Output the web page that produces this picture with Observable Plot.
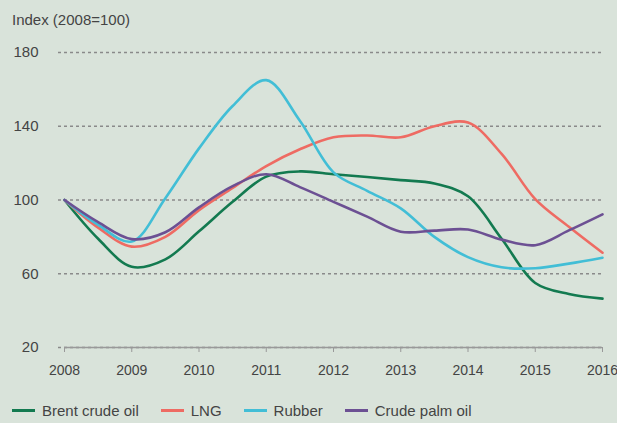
<!DOCTYPE html>
<html><head><meta charset="utf-8">
<script src="https://cdn.jsdelivr.net/npm/d3@7"></script>
<script src="https://cdn.jsdelivr.net/npm/@observablehq/plot@0.6"></script>
<style>
html,body{margin:0;padding:0;background:#d9e3da;}
body{width:617px;height:423px;overflow:hidden;font-family:"Liberation Sans",Arial,sans-serif;color:#444;}
#title{height:36px;box-sizing:border-box;padding:12px 0 0 12px;font-size:15px;line-height:16px;}
#legend{display:flex;align-items:center;padding-left:12px;height:24px;margin-top:13px;font-size:15px;}
.item{display:flex;align-items:center;margin-right:22px;}
.sw{width:23px;height:3px;margin-right:7px;}
</style></head>
<body>
<div id="title">Index (2008=100)</div>
<div id="chart"></div>
<div id="legend"></div>
<script>
const years = [2008,2008.5,2009,2009.5,2010,2010.5,2011,2011.5,2012,2012.5,2013,2013.5,2014,2014.5,2015,2015.5,2016];
const brent = [100,79,63.8,67.8,83,99,112.7,115.5,114,112.5,110.8,109,102,79,55,49,46.5];
const lng   = [100,85,74.7,80,94.5,106.5,118.4,127.5,134,135,134,140,142,125,100.5,85.5,71.4];
const rubber= [100,86.5,77.5,101,128,151,165,143,115,105,95.5,80,69,63.5,63,65.5,68.7];
const cpo   = [100,88,78.8,82.5,96,107.5,114,107,99,91,82.8,83.4,84,78.5,75.5,83.5,92.2];
const seriesNames = ["Brent crude oil","LNG","Rubber","Crude palm oil"];
const seriesColors = ["#137a50","#ee6b63","#42bed6","#6c5093"];
const yTicks = [20,60,100,140,180];
const xTicks = [2008,2009,2010,2011,2012,2013,2014,2015,2016];

const all = [brent,lng,rubber,cpo];
const data = [];
all.forEach((arr,i)=>arr.forEach((v,j)=>data.push({year:years[j],value:v,series:seriesNames[i]})));

const chart = Plot.plot({
  width:617, height:349,
  marginTop:16, marginBottom:38, marginLeft:58, marginRight:15,
  style:{background:"transparent",fontFamily:"Liberation Sans, Arial, sans-serif",fontSize:"15px",color:"#444",overflow:"visible"},
  x:{domain:[2008,2016], insetLeft:6},
  y:{domain:[20,180]},
  color:{domain:seriesNames, range:seriesColors},
  marks:[
    Plot.ruleY(yTicks, {stroke:"#8a8a8a", strokeDasharray:"3,3", strokeWidth:1.3}),
    Plot.ruleY([20], {x1:2008, x2:2016, stroke:"#999", strokeWidth:1.6}),
    Plot.axisX({ticks:xTicks, tickFormat:d=>String(d), tickSize:5, tickPadding:13, stroke:"#999", fontSize:14, label:null}),
    Plot.axisY({ticks:yTicks, tickSize:0, tickPadding:20, fontSize:15, label:null}),
    Plot.line(data, {x:"year", y:"value", stroke:"series", strokeWidth:2.6, curve:"catmull-rom"})
  ]
});
chart.style.display="block";
document.getElementById("chart").appendChild(chart);

const lg = document.getElementById("legend");
seriesNames.forEach((n,i)=>{
  const it=document.createElement("div"); it.className="item";
  const sw=document.createElement("div"); sw.className="sw"; sw.style.background=seriesColors[i];
  const t=document.createElement("span"); t.textContent=n;
  it.appendChild(sw); it.appendChild(t); lg.appendChild(it);
});
</script>
</body></html>
